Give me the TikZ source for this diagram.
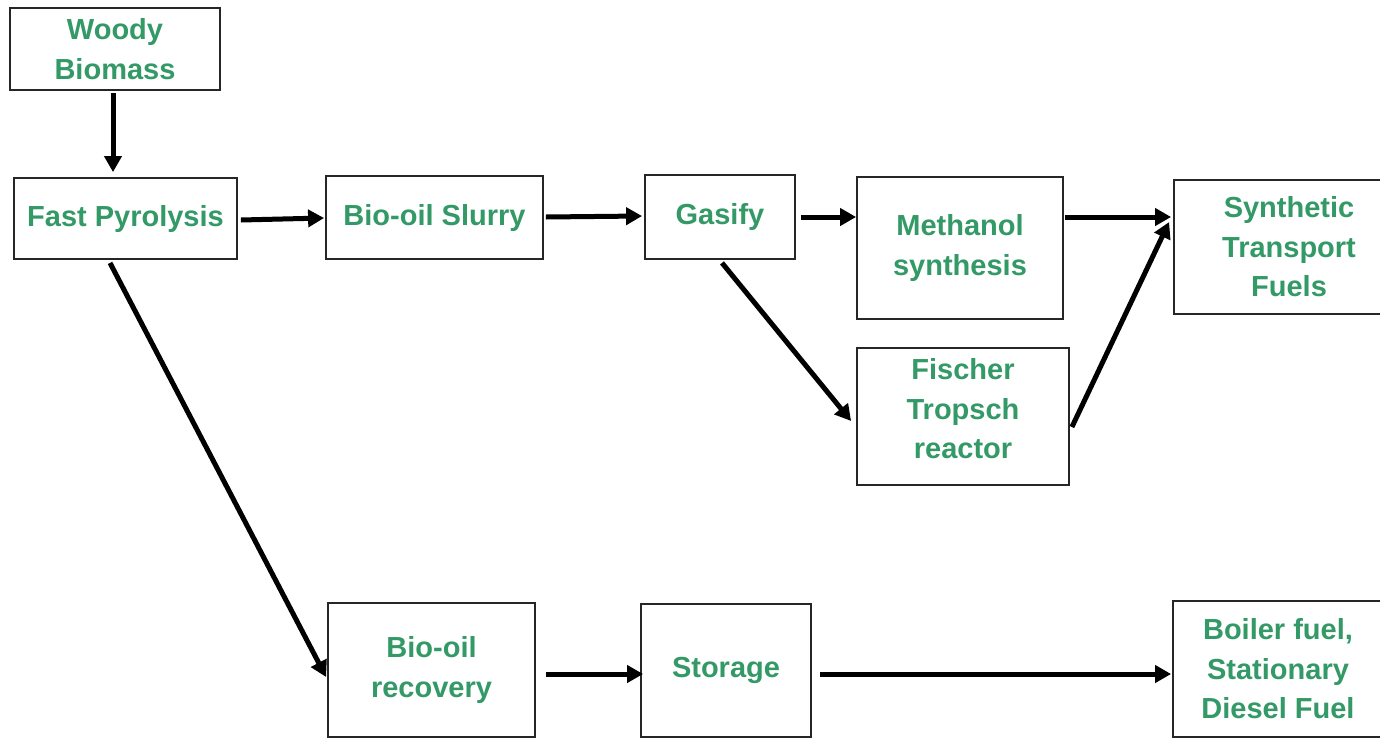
\documentclass[tikz,border=0pt]{standalone}
\usepackage{fontspec}
\setmainfont{Liberation Sans}
\usetikzlibrary{arrows.meta,calc}
\definecolor{txtgreen}{RGB}{51,153,102}
\begin{document}
\begin{tikzpicture}[x=1pt,y=-1pt,
  box/.style={draw=black!85, line width=1.8pt, fill=white, inner sep=0pt,
    align=center, text=txtgreen, font=\bfseries\fontsize{29}{39.5}\selectfont},
  arr/.style={line width=5pt, -{Triangle[length=16pt,width=17pt]}}]
\clip (0,0) rectangle (1380,739);
\fill[white] (0,0) rectangle (1380,739);

\node[box, minimum width=210pt, minimum height=82pt]  (woody)    at (115,49)     {Woody\\Biomass};
\node[box, minimum width=223pt, minimum height=81pt]  (fast)     at (125.5,218.5) {Fast Pyrolysis};
\node[box, minimum width=217pt, minimum height=83pt]  (slurry)   at (434.5,217.5) {Bio-oil Slurry};
\node[box, minimum width=150pt, minimum height=84pt]  (gasify)   at (720,217)     {Gasify};
\node[box, minimum width=206pt, minimum height=142pt] (methanol) at (960,248)     {Methanol\\synthesis};
\node[box, minimum width=230pt, minimum height=134pt] (synth)    at (1289,247)    {Synthetic\\Transport\\Fuels};
\node[box, minimum width=212pt, minimum height=137pt] (fischer)  at (963,416.5)   {Fischer\\Tropsch\\reactor\\[-23.5pt]\mbox{}};
\node[box, minimum width=207pt, minimum height=134pt] (recovery) at (431.5,670)   {Bio-oil\\recovery};
\node[box, minimum width=170pt, minimum height=133pt] (storage)  at (726,670.5)   {Storage};
\node[box, minimum width=210pt, minimum height=136pt] (boiler)   at (1278,669)    {Boiler fuel,\\Stationary\\Diesel Fuel};

\draw[arr] ([xshift=-2pt,yshift=-2pt]woody.south) -- ([xshift=-12.5pt,yshift=5pt]fast.north);
\draw[arr] ([xshift=3pt,yshift=-1.5pt]fast.east) -- ([xshift=-1pt,yshift=-0.5pt]slurry.west);
\draw[arr] ([xshift=2pt,yshift=0.5pt]slurry.east) -- ([xshift=-2pt,yshift=1pt]gasify.west);
\draw[arr] ([xshift=5pt]gasify.east) -- ([yshift=31pt]methanol.west);
\draw[arr] ([xshift=1pt,yshift=31pt]methanol.east) -- ([xshift=-2pt,yshift=30pt]synth.west);
\draw[arr] ([xshift=2pt,yshift=-10.5pt]fischer.east) -- ([xshift=-4pt,yshift=25pt]synth.west);
\draw[arr] ([xshift=2pt,yshift=-3pt]gasify.south) -- ([xshift=-5pt,yshift=-4.5pt]fischer.west);
\draw[arr] ([xshift=-15.5pt,yshift=-3pt]fast.south) -- ([xshift=-1pt,yshift=-7pt]recovery.west);
\draw[arr] ([xshift=10pt,yshift=-4pt]recovery.east) -- ([xshift=3pt,yshift=-3.5pt]storage.west);
\draw[arr] ([xshift=8pt,yshift=-3.5pt]storage.east) -- ([xshift=-1pt,yshift=-5pt]boiler.west);
\end{tikzpicture}
\end{document}
